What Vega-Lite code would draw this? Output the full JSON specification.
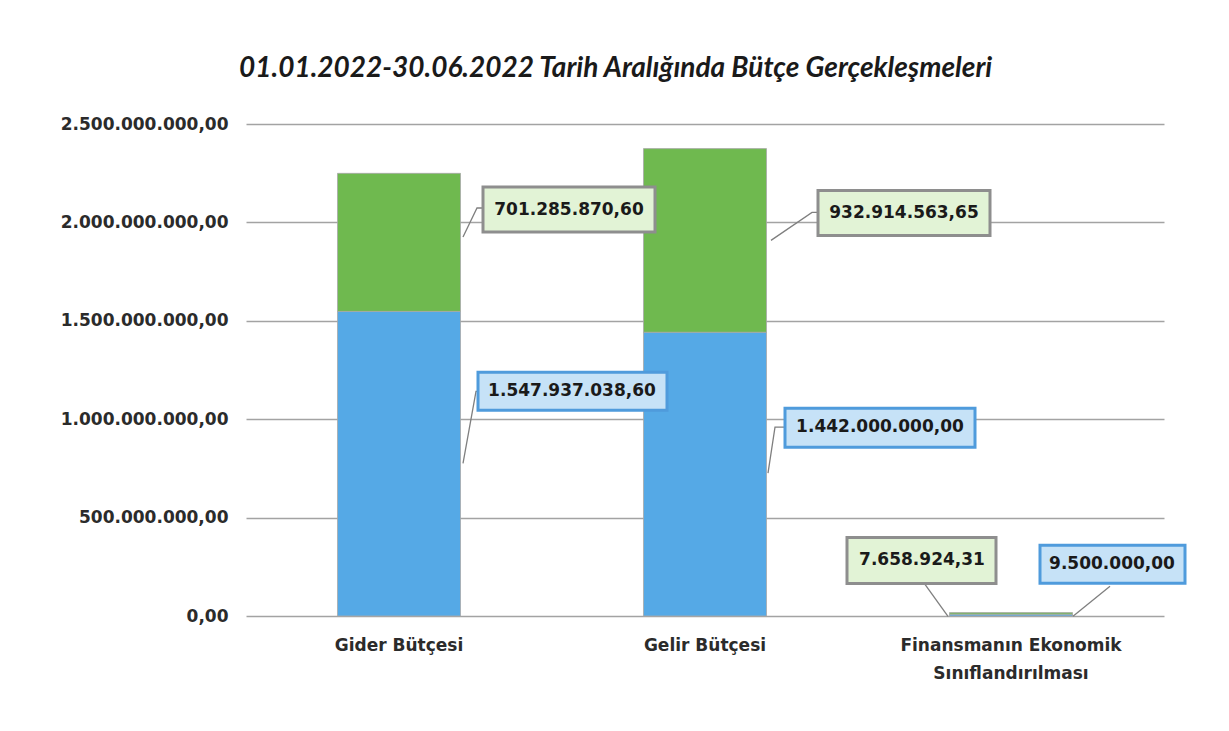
{
  "$schema": "https://vega.github.io/schema/vega-lite/v6.json",
  "width": 918,
  "height": 492,
  "autosize": "none",
  "padding": {"left": 246, "top": 124, "right": 65, "bottom": 115},
  "background": "white",
  "config": {
    "locale": {"number": {"decimal": ",", "thousands": ".", "grouping": [3], "currency": ["", " TL"]}},
    "view": {"stroke": null},
    "font": "DejaVu Sans"
  },
  "title": {
    "text": "01.01.2022-30.06.2022 Tarih Aralığında Bütçe Gerçekleşmeleri",
    "font": "Lato",
    "fontSize": 28,
    "fontWeight": "bold",
    "fontStyle": "italic",
    "color": "#1a1a1a",
    "anchor": "middle",
    "frame": "bounds",
    "offset": 32,
    "dx": -10
  },
  "data": {
    "values": [
      {"cat": "Gider Bütçesi", "series": "Bütçe", "value": 1547937038.60, "id": "gider_b"},
      {"cat": "Gider Bütçesi", "series": "Gerçekleşme", "value": 701285870.60, "id": "gider_g"},
      {"cat": "Gelir Bütçesi", "series": "Bütçe", "value": 1442000000.00, "id": "gelir_b"},
      {"cat": "Gelir Bütçesi", "series": "Gerçekleşme", "value": 932914563.65, "id": "gelir_g"},
      {"cat": "Finansmanın Ekonomik Sınıflandırılması", "series": "Bütçe", "value": 9500000.00, "id": "fin_b"},
      {"cat": "Finansmanın Ekonomik Sınıflandırılması", "series": "Gerçekleşme", "value": 7658924.31, "id": "fin_g"}
    ]
  },
  "encoding": {
    "x": {
      "field": "cat",
      "type": "nominal",
      "sort": null,
      "scale": {"paddingInner": 0.598, "paddingOuter": 0.299},
      "axis": {
        "title": null,
        "domain": false,
        "ticks": false,
        "grid": false,
        "labelAngle": 0,
        "labelPadding": 21,
        "labelFont": "DejaVu Sans",
        "labelFontSize": 17,
        "labelFontWeight": "bold",
        "labelColor": "#2b2b2b",
        "labelLineHeight": 28,
        "labelLimit": 400,
        "labelExpr": "datum.value == 'Finansmanın Ekonomik Sınıflandırılması' ? ['Finansmanın Ekonomik', 'Sınıflandırılması'] : datum.label"
      }
    }
  },
  "resolve": {"scale": {"shape": "independent"}},
  "layer": [
    {
      "mark": {"type": "bar", "stroke": "#a8a8a8", "strokeWidth": 0.8},
      "encoding": {
        "y": {
          "field": "value",
          "type": "quantitative",
          "stack": "zero",
          "scale": {"domain": [0, 2500000000], "nice": false},
          "axis": {
            "title": null,
            "values": [0, 500000000, 1000000000, 1500000000, 2000000000, 2500000000],
            "format": ",.2f",
            "domain": false,
            "ticks": false,
            "labelPadding": 18,
            "labelFont": "DejaVu Sans",
            "labelFontSize": 17,
            "labelFontWeight": "bold",
            "labelColor": "#2b2b2b",
            "gridColor": "#a3a3a3",
            "gridWidth": 1.5
          }
        },
        "color": {
          "field": "series",
          "type": "nominal",
          "scale": {"domain": ["Bütçe", "Gerçekleşme"], "range": ["#55a9e6", "#6fb94f"]},
          "legend": null
        },
        "order": {"field": "series", "sort": "ascending"}
      }
    },
    {
      "mark": {"type": "point", "filled": false, "stroke": "#7f7f7f", "strokeWidth": 1.3, "size": 4, "opacity": 1},
      "encoding": {
        "y": {"field": "value", "type": "quantitative", "stack": null},
        "shape": {
          "field": "id",
          "type": "nominal",
          "scale": {
            "domain": ["gider_g", "gider_b", "gelir_g", "gelir_b", "fin_g", "fin_b"],
            "range": ["M64,-241L78,-270H84", "M64,152L77,80H79", "M66,-192L107,-220H113", "M63,141L70,95H80", "M-63,2L-86,-30", "M62,2L99,-28"]
          },
          "legend": null
        }
      }
    },
    {
      "mark": {"type": "point", "filled": true, "size": 4, "opacity": 1, "strokeWidth": 3},
      "encoding": {
        "y": {"field": "value", "type": "quantitative", "stack": null},
        "shape": {
          "field": "id",
          "type": "nominal",
          "scale": {
            "domain": ["gider_g", "gider_b", "gelir_g", "gelir_b", "fin_g", "fin_b"],
            "range": ["M84,-291H256V-246H84Z", "M79,61H268V99H79Z", "M113,-242H285V-197H113Z", "M80,76H270V115H80Z", "M-164,-77H-15V-31H-164Z", "M29,-69H174V-31H29Z"]
          },
          "legend": null
        },
        "fill": {
          "field": "series",
          "type": "nominal",
          "scale": {"domain": ["Bütçe", "Gerçekleşme"], "range": ["#c6e2f7", "#e2f3d6"]},
          "legend": null
        },
        "stroke": {
          "field": "series",
          "type": "nominal",
          "scale": {"domain": ["Bütçe", "Gerçekleşme"], "range": ["#4f9bdc", "#8e8e8e"]},
          "legend": null
        }
      }
    },
    {
      "transform": [{"filter": "datum.id == 'gider_g'"}],
      "mark": {"type": "text", "dx": 170, "dy": -268, "font": "DejaVu Sans", "fontSize": 17, "fontWeight": "bold", "color": "#1a1a1a"},
      "encoding": {
        "y": {"field": "value", "type": "quantitative", "stack": null},
        "text": {"field": "value", "type": "quantitative", "format": ",.2f"}
      }
    },
    {
      "transform": [{"filter": "datum.id == 'gider_b'"}],
      "mark": {"type": "text", "dx": 173, "dy": 80, "font": "DejaVu Sans", "fontSize": 17, "fontWeight": "bold", "color": "#1a1a1a"},
      "encoding": {
        "y": {"field": "value", "type": "quantitative", "stack": null},
        "text": {"field": "value", "type": "quantitative", "format": ",.2f"}
      }
    },
    {
      "transform": [{"filter": "datum.id == 'gelir_g'"}],
      "mark": {"type": "text", "dx": 199, "dy": -219, "font": "DejaVu Sans", "fontSize": 17, "fontWeight": "bold", "color": "#1a1a1a"},
      "encoding": {
        "y": {"field": "value", "type": "quantitative", "stack": null},
        "text": {"field": "value", "type": "quantitative", "format": ",.2f"}
      }
    },
    {
      "transform": [{"filter": "datum.id == 'gelir_b'"}],
      "mark": {"type": "text", "dx": 175, "dy": 95, "font": "DejaVu Sans", "fontSize": 17, "fontWeight": "bold", "color": "#1a1a1a"},
      "encoding": {
        "y": {"field": "value", "type": "quantitative", "stack": null},
        "text": {"field": "value", "type": "quantitative", "format": ",.2f"}
      }
    },
    {
      "transform": [{"filter": "datum.id == 'fin_g'"}],
      "mark": {"type": "text", "dx": -89, "dy": -54, "font": "DejaVu Sans", "fontSize": 17, "fontWeight": "bold", "color": "#1a1a1a"},
      "encoding": {
        "y": {"field": "value", "type": "quantitative", "stack": null},
        "text": {"field": "value", "type": "quantitative", "format": ",.2f"}
      }
    },
    {
      "transform": [{"filter": "datum.id == 'fin_b'"}],
      "mark": {"type": "text", "dx": 101, "dy": -50, "font": "DejaVu Sans", "fontSize": 17, "fontWeight": "bold", "color": "#1a1a1a"},
      "encoding": {
        "y": {"field": "value", "type": "quantitative", "stack": null},
        "text": {"field": "value", "type": "quantitative", "format": ",.2f"}
      }
    }
  ]
}
